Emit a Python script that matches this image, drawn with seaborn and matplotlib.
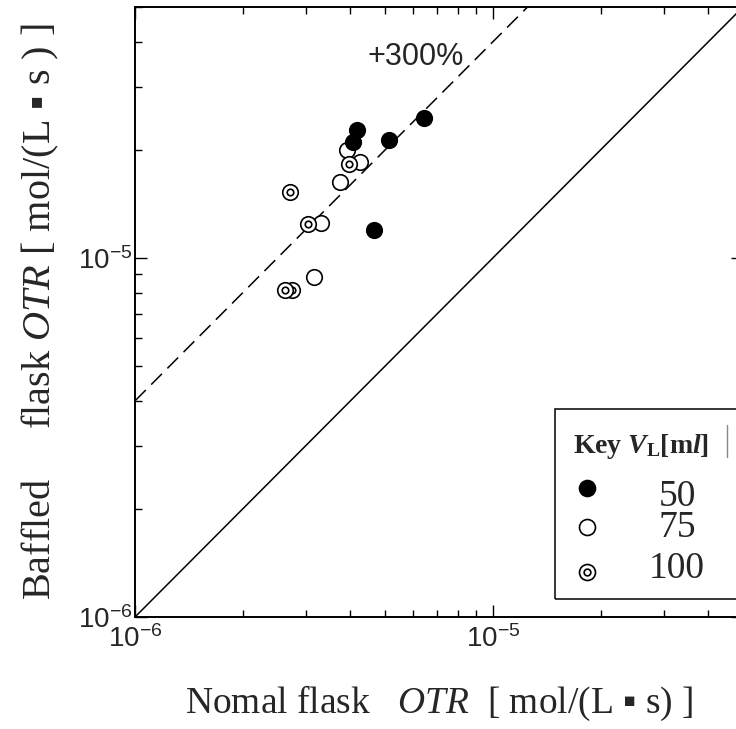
import numpy as np
import pandas as pd
import matplotlib
matplotlib.use("Agg")
import matplotlib.pyplot as plt
from matplotlib.patches import Rectangle
from matplotlib.lines import Line2D
from matplotlib.path import Path
import seaborn as sns

# ---data: OTR in normal flask vs baffled flask [mol/(L s)]---
vl50_normal = [4.16e-6, 4.07e-6, 5.13e-6, 6.43e-6, 4.66e-6]
vl50_baffled = [2.27e-5, 2.11e-5, 2.13e-5, 2.46e-5, 1.20e-5]
vl75_normal = [3.92e-6, 4.25e-6, 3.74e-6, 3.31e-6, 3.16e-6]
vl75_baffled = [2.00e-5, 1.85e-5, 1.63e-5, 1.25e-5, 8.84e-6]
vl100_normal = [2.74e-6, 2.62e-6, 3.97e-6, 2.71e-6, 3.05e-6]
vl100_baffled = [8.15e-6, 8.15e-6, 1.83e-5, 1.53e-5, 1.24e-5]

axis_range = [1e-6, 5e-5]
ratio_equal = 1.0
ratio_plus300 = 4.0
legend_labels = ["50", "75", "100"]

sns.set_style("ticks")
plt.rcParams['font.family'] = ['Liberation Sans', 'DejaVu Sans']
plt.rcParams['mathtext.fontset'] = 'custom'
plt.rcParams['mathtext.rm'] = 'Liberation Serif'
plt.rcParams['mathtext.it'] = 'Liberation Serif:italic'
plt.rcParams['mathtext.bf'] = 'Liberation Serif:bold'
plt.rcParams['mathtext.bfit'] = 'Liberation Serif:bold:italic'

SERIF = ['Liberation Serif', 'DejaVu Serif']

# double circle marker (circle with a small circle inside)
ring = Path.make_compound_path(Path.unit_circle(), Path.circle((0, 0), 0.42))

fig = plt.figure(figsize=(7.36, 7.29), dpi=100)
# axes run a bit past the right edge, as in the cropped original
ax = fig.add_axes([135/736, 112/729, 608/736, 610/729])
ax.set_xscale('log')
ax.set_yscale('log')

ref = pd.DataFrame({'x': axis_range})
ref['equal'] = ref.x * ratio_equal
ref['plus300'] = ref.x * ratio_plus300
sns.lineplot(data=ref, x='x', y='equal', ax=ax, color='black', lw=1.1, zorder=2)
sns.lineplot(data=ref, x='x', y='plus300', ax=ax, color='black', lw=1.1,
             dashes=(10, 5), zorder=2)

MS = 125
sns.scatterplot(x=vl75_normal, y=vl75_baffled, ax=ax, s=MS, color='white',
                edgecolor='black', linewidth=1.2, zorder=3)
sns.scatterplot(x=vl100_normal, y=vl100_baffled, ax=ax, s=MS, marker=ring, color='white',
                edgecolor='black', linewidth=1.2, zorder=3)
sns.scatterplot(x=vl50_normal, y=vl50_baffled, ax=ax, s=MS, color='black',
                edgecolor='black', linewidth=1.2, zorder=3)

ax.text(4.45e-6, 3.45e-5, '+300%', fontsize=22, va='baseline', ha='left')

ax.set_xlim(axis_range)
ax.set_ylim(axis_range)
ax.minorticks_on()
ax.yaxis.set_minor_formatter(matplotlib.ticker.NullFormatter())
ax.xaxis.set_minor_formatter(matplotlib.ticker.NullFormatter())
ax.tick_params(which='both', direction='in', top=True, right=True, width=1.0,
               color='black', labelsize=20)
ax.tick_params(which='major', length=8.5)
ax.tick_params(which='minor', length=5)
ax.tick_params(axis='x', pad=6)
ax.tick_params(axis='y', pad=2)
for sp in ax.spines.values():
    sp.set_linewidth(1.4)
    sp.set_color('black')

ax.set_xlabel(r'Nomal flask   $\mathit{OTR}$  [ mol/(L ▪ s) ]', family=SERIF,
              fontsize=27, labelpad=22)
ax.set_ylabel(r'Baffled     flask $\mathit{OTR}$ [ mol/(L ▪ s ) ]', family=SERIF,
              fontsize=29, labelpad=12)

# ---key box (cut by the right edge)---
W, H = 736, 729
fig.add_artist(Rectangle((555/W, (H-599)/H), 300/W, 190/H, transform=fig.transFigure,
                         fill=False, edgecolor='black', lw=1.1, clip_on=False))
fig.text(573/W, (H-453)/H, r'$\mathbf{Key}\ \mathbfit{V}_{\mathbf{L}}\mathbf{[m}\mathbfit{l}\mathbf{]}$',
         fontsize=20, va='baseline', ha='left')
fig.add_artist(Line2D([727/W, 727/W], [(H-425)/H, (H-457)/H], transform=fig.transFigure,
                      color='#888888', lw=1.0))
key_y = [488, 527, 572]
key_base = [506, 537, 578]
key_style = [dict(marker='o', mfc='black'), dict(marker='o', mfc='white'),
             dict(marker=ring, mfc='white')]
for lab, yy, yb, st in zip(legend_labels, key_y, key_base, key_style):
    fig.add_artist(Line2D([587/W], [(H-yy)/H], transform=fig.transFigure, ls='none',
                          mec='black', mew=1.2, ms=11.5, **st))
    fig.text(677/W, (H-yb)/H, lab, family=SERIF, fontsize=27, ha='center', va='baseline')

fig.savefig('out.png', dpi=100)
